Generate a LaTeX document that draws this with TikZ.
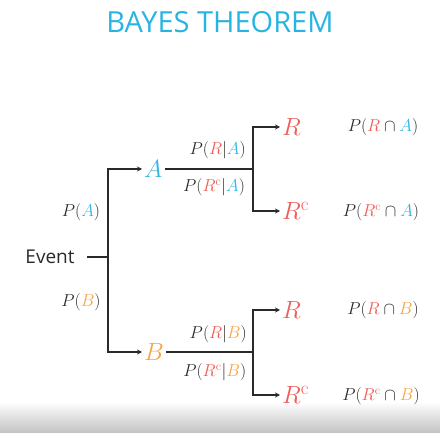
\documentclass[tikz,border=0pt]{standalone}
\usepackage{amsmath}
\usepackage{xcolor}
\usepackage{fontspec}
\setsansfont{Open Sans}
\usetikzlibrary{arrows.meta,positioning}
\definecolor{cA}{HTML}{35B5E2}
\definecolor{cB}{HTML}{F4A545}
\definecolor{cR}{HTML}{EE5D57}
\definecolor{ink}{HTML}{2A2A2A}
\definecolor{title}{HTML}{27B4E3}
\tikzset{
  ln/.style={draw=ink, line width=1.4pt},
  fl/.style={ln, -{Stealth[length=5pt,width=5pt]}},
  ev/.style={inner sep=2pt, font=\fontsize{27}{30}\selectfont},
  pr/.style={inner sep=1pt, text=ink, font=\fontsize{17.5}{20}\selectfont},
  lbl/.style={pr}
}
\newcommand{\Ra}{\textcolor{cR}{R}}
\newcommand{\Rc}{\textcolor{cR}{R^{\mathrm{c}}}}
\newcommand{\Aa}{\textcolor{cA}{A}}
\newcommand{\Bb}{\textcolor{cB}{B}}

\begin{document}
\begin{tikzpicture}[x=1pt, y=1pt]
  \useasboundingbox (0,0) rectangle (440,-433);
  \shade[top color=white, bottom color=black!24] (0,-402) rectangle (440,-433);
  \node[font=\sffamily\fontsize{29}{32}\selectfont, text=title] (ttl) at (220,-22) {BAYES THEOREM};
  % first level
  \node[font=\sffamily\fontsize{19}{22}\selectfont, text=ink, inner sep=2pt] (event) at (50,-257) {Event};
  \coordinate (split) at (108,-257);
  \node[ev, anchor=west] (A) at (142,-169) {$\Aa$};
  \node[ev, anchor=west] (B) at (142,-352) {$\Bb$};
  \node[pr] (pA) at (81,-212) {$P(\Aa)$};
  \node[pr] (pB) at (81,-302) {$P(\Bb)$};
  \draw[ln] (event.east)++(10,0) -- (split);
  \draw[fl] (split) |- (A);
  \draw[fl] (split) |- (B);
  % second level
  \coordinate (sA) at (253,-169);
  \coordinate (sB) at (253,-352);
  \node[ev, anchor=west] (RA) at (280,-127) {$\Ra$};
  \node[ev, anchor=west] (RcA) at (280,-211) {$\Rc$};
  \node[ev, anchor=west] (RB) at (280,-310) {$\Ra$};
  \node[ev, anchor=west] (RcB) at (280,-395) {$\Rc$};
  \draw[ln] (A) -- node[lbl, above=8pt, pos=0.6] (cRA) {$P(\Ra|\Aa)$}
                   node[lbl, below=8pt, pos=0.56] (cRcA) {$P(\Rc|\Aa)$} (sA);
  \draw[ln] (B) -- node[lbl, above=7pt, pos=0.6] (cRB) {$P(\Ra|\Bb)$}
                   node[lbl, below=10pt, pos=0.56] (cRcB) {$P(\Rc|\Bb)$} (sB);
  \foreach \s/\t in {sA/RA,sA/RcA,sB/RB,sB/RcB} \draw[fl] (\s) |- (\t);
  % joint probabilities
  \node[pr] (jRA) at (383,-127) {$P(\Ra\cap\Aa)$};
  \node[pr] (jRcA) at (381,-212) {$P(\Rc\cap\Aa)$};
  \node[pr] (jRB) at (383,-310) {$P(\Ra\cap\Bb)$};
  \node[pr] (jRcB) at (381,-396) {$P(\Rc\cap\Bb)$};
\end{tikzpicture}
\end{document}
